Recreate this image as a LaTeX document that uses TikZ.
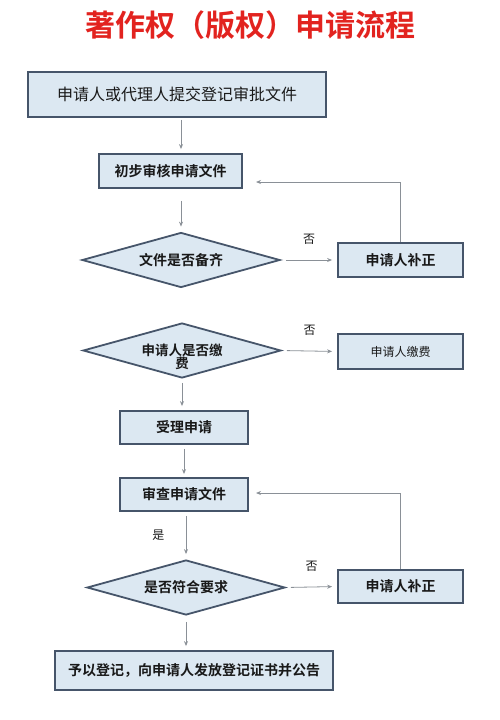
\documentclass[tikz,border=0pt]{standalone}
\usepackage{fontspec}
\setmainfont{Noto Sans CJK SC}[BoldFont={Noto Sans CJK SC Bold}]
\usetikzlibrary{shapes.geometric,arrows.meta}
\definecolor{boxfill}{HTML}{DCE8F2}
\definecolor{boxline}{HTML}{46556A}
\definecolor{arrowgray}{HTML}{8A9097}
\definecolor{titlered}{HTML}{E2231F}
\begin{document}
\begin{tikzpicture}[x=1pt,y=-1pt,>={Stealth[length=5pt,width=4pt]},
  stepbox/.style={draw=boxline,line width=1.8pt,fill=boxfill,inner sep=0pt,text=black!90,font=\fontsize{14}{17}\selectfont\bfseries},
  testbox/.style={diamond,draw=boxline,line width=1.8pt,fill=boxfill,inner sep=0pt,aspect=3.6,minimum width=198pt,minimum height=55pt},
  flow/.style={->,draw=arrowgray,line width=0.8pt},
  answer/.style={font=\fontsize{12}{14}\selectfont,text=black!90}]
  \useasboundingbox (0,0) rectangle (500,720);
  \node[text=titlered,font=\fontsize{30}{36}\selectfont\bfseries] (title) at (250,25) {著作权（版权）申请流程};
  \node[stepbox,minimum width=298pt,minimum height=45pt,font=\fontsize{16}{19}\selectfont] (b1) at (177,94.5) {申请人或代理人提交登记审批文件};
  \node[stepbox,minimum width=143pt,minimum height=34pt] (b2) at (170.5,171) {初步审核申请文件};
  \node[testbox] (d1) at (181,260) {};
  \node[stepbox,draw=none,fill=none] (d1t) at (d1) {文件是否备齐};
  \node[stepbox,minimum width=125pt,minimum height=34pt] (b3) at (400.5,260) {申请人补正};
  \node[testbox] (d2) at (182,350.5) {};
  \node[stepbox,draw=none,fill=none,align=center,font=\fontsize{13.5}{13}\selectfont\bfseries] (d2t) at (182,357) {申请人是否缴\\费};
  \node[stepbox,minimum width=125pt,minimum height=35pt,font=\fontsize{12}{14}\selectfont] (b4) at (400.5,351.5) {申请人缴费};
  \node[stepbox,minimum width=128pt,minimum height=33pt] (b5) at (184,427.5) {受理申请};
  \node[stepbox,minimum width=128pt,minimum height=33pt] (b6) at (184,494.5) {审查申请文件};
  \node[testbox] (d3) at (186,587.5) {};
  \node[stepbox,draw=none,fill=none] (d3t) at (d3) {是否符合要求};
  \node[stepbox,minimum width=125pt,minimum height=33pt] (b7) at (400.5,586.5) {申请人补正};
  \node[stepbox,minimum width=278pt,minimum height=39pt] (b8) at (194,670.5) {予以登记，向申请人发放登记证书并公告};
  \coordinate (f1) at (256,182);
  \coordinate (f2) at (256,493);
  \draw[flow,shorten <=2pt,shorten >=4pt] (b1.south -| d1) -- (b2.north -| d1);
  \draw[flow,shorten <=12pt,shorten >=5pt] (b2.south -| d1) -- (d1.north);
  \draw[flow,shorten <=5pt,shorten >=5pt] (d1.east) -- node[answer,above=12pt] (n1) {否} (b3.west);
  \draw[flow] (b3.north) |- (f1);
  \draw[flow,shorten <=5pt,shorten >=5pt] (d2.east) -- node[answer,above=12pt] (n2) {否} (b4.west);
  \draw[flow,shorten <=4pt,shorten >=4pt] (d2.south) -- (d2.south |- b5.north);
  \draw[flow,shorten <=4pt,shorten >=3pt] (b5.south) -- (b6.north);
  \draw[flow,shorten <=4pt,shorten >=5pt] (b6.south -| d3) -- node[answer,left=18pt] (n3) {是} (d3.north);
  \draw[flow,shorten <=5pt,shorten >=5pt] (d3.east) -- node[answer,above=12pt] (n4) {否} (b7.west);
  \draw[flow] (b7.north) |- (f2);
  \draw[flow,shorten <=6pt,shorten >=4pt] (d3.south) -- (d3.south |- b8.north);
\end{tikzpicture}
\end{document}
